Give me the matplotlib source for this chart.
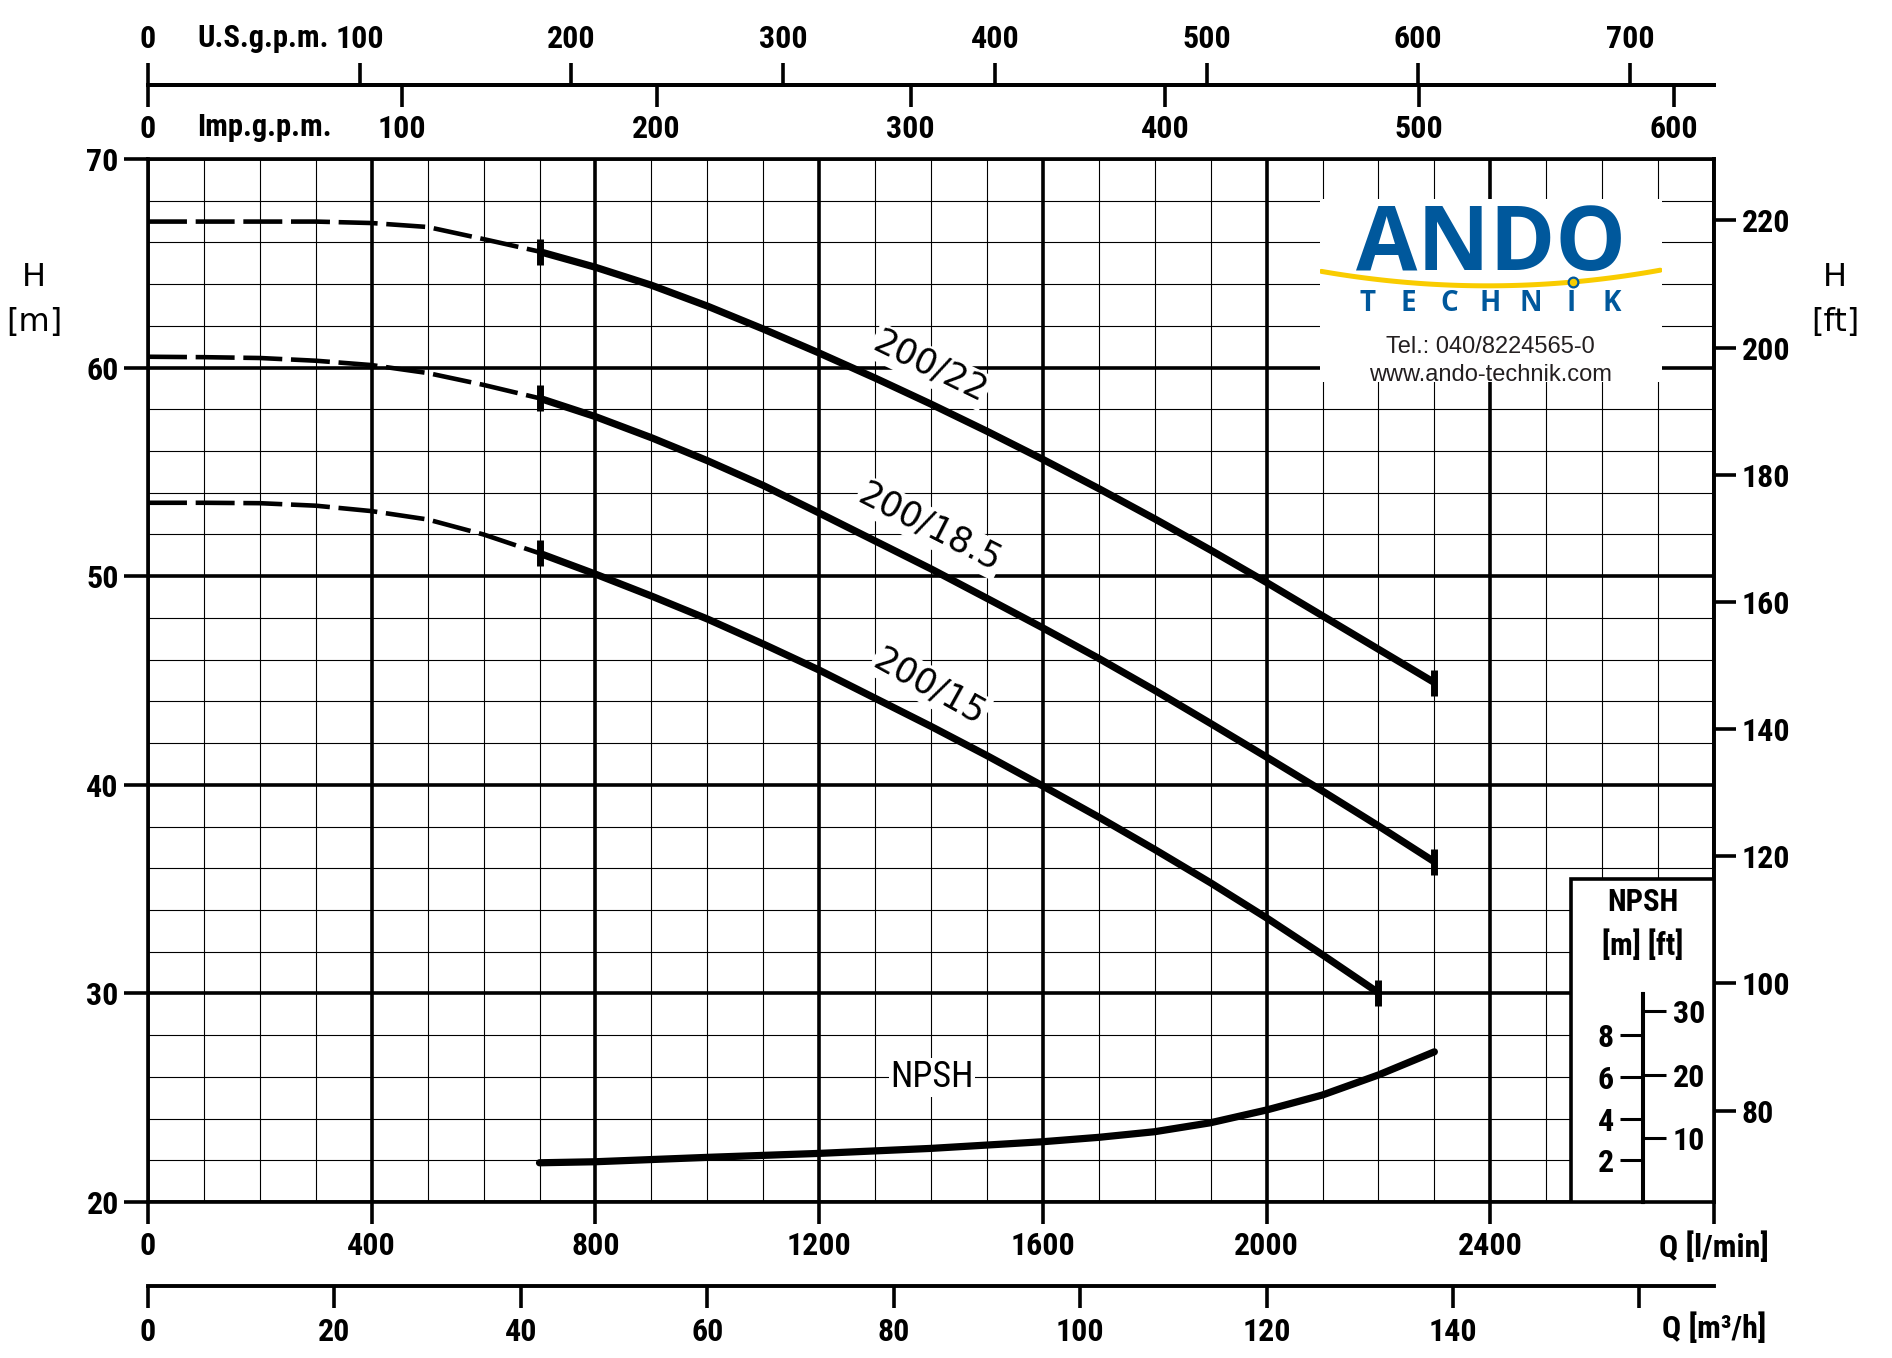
"""
Pump performance chart (H-Q curves with NPSH) for the 200 series,
redrawn from a manufacturer data sheet.
"""

import matplotlib

matplotlib.use("Agg")
import matplotlib.pyplot as plt
import numpy as np
from matplotlib.patches import Rectangle


FIG_W, FIG_H, DPI = 1892, 1358, 100
NARROW = ["Liberation Sans Narrow", "Roboto Condensed", "Roboto", "DejaVu Sans"]
PLAIN = ["DejaVu Sans"]
LOGO_FONT = ["Open Sans", "DejaVu Sans"]
TEXT_FONT = ["Liberation Sans", "DejaVu Sans"]
BLUE = "#00589c"
YELLOW = "#f9cc00"
MAJOR_LW = 2.6
MINOR_LW = 0.8
TICK_SIZE = 23

# Q in l/min, H in m
Q_DASH = [0, 100, 200, 300, 400, 500, 600, 700]
H22_DASH = [67.0, 67.0, 67.0, 67.0, 66.93, 66.74, 66.16, 65.56]
H185_DASH = [60.52, 60.5, 60.46, 60.33, 60.12, 59.74, 59.17, 58.53]
H15_DASH = [53.52, 53.52, 53.5, 53.38, 53.12, 52.72, 52.0, 51.1]

Q22 = [700, 800, 900, 1000, 1100, 1200, 1300, 1400, 1500, 1600, 1700, 1800,
       1900, 2000, 2100, 2200, 2300]
H22 = [65.56, 64.81, 63.95, 62.95, 61.85, 60.7, 59.5, 58.25, 56.95, 55.6,
       54.2, 52.75, 51.25, 49.7, 48.1, 46.5, 44.9]
Q185 = Q22
H185 = [58.53, 57.65, 56.64, 55.54, 54.35, 53.03, 51.69, 50.35, 48.94, 47.52,
        46.06, 44.53, 42.94, 41.33, 39.7, 38.03, 36.31]
Q15 = [700, 800, 900, 1000, 1100, 1200, 1300, 1400, 1500, 1600, 1700, 1800,
       1900, 2000, 2100, 2200]
H15 = [51.1, 50.1, 49.05, 47.95, 46.75, 45.5, 44.15, 42.8, 41.4, 39.94,
       38.45, 36.9, 35.3, 33.62, 31.85, 30.03]

Q_NPSH = [700, 800, 1000, 1200, 1400, 1600, 1700, 1800, 1900, 2000, 2100, 2200, 2300]
NPSH_M = [1.88, 1.93, 2.14, 2.33, 2.57, 2.89, 3.1, 3.37, 3.8, 4.41, 5.13, 6.09, 7.2]

CURVE_NAMES = ["200/22", "200/18.5", "200/15"]
LABEL_Q = [1398, 1398, 1398]
LABEL_H = [60.04, 52.33, 44.72]
LABEL_ROT = [-26, -27, -29]

Q_TICKS = [0, 400, 800, 1200, 1600, 2000, 2400, 2800]
Q_TICK_LABELS = ["0", "400", "800", "1200", "1600", "2000", "2400", "Q [l/min]"]
H_TICKS = [20, 30, 40, 50, 60, 70]
FT_TICKS = [80, 100, 120, 140, 160, 180, 200, 220]
USGPM_TICKS = [0, 100, 200, 300, 400, 500, 600, 700]
IMPGPM_TICKS = [0, 100, 200, 300, 400, 500, 600]
M3H_TICKS = [0, 20, 40, 60, 80, 100, 120, 140, 160]
M3H_LABELS = ["0", "20", "40", "60", "80", "100", "120", "140", ""]
NPSH_M_TICKS = [2, 4, 6, 8]
NPSH_FT_TICKS = [10, 20, 30]

M_TO_FT = 3.28084
US_GAL = 3.78541
IMP_GAL = 4.54609


def px_rect(left, top, right, bottom):
    """Figure-fraction rectangle from pixel edges (origin top-left)."""
    return [left / FIG_W, 1 - bottom / FIG_H, (right - left) / FIG_W, (bottom - top) / FIG_H]


def m_to_ft(v):
    return np.asarray(v) * M_TO_FT


def ft_to_m(v):
    return np.asarray(v) / M_TO_FT


def style_ticks(axis_obj, length=16, width=MAJOR_LW, pad=5):
    axis_obj.tick_params(length=length, width=width, pad=pad, labelsize=TICK_SIZE,
                         direction="out")


def draw_logo(ax):
    """White logo panel with company name and contact lines."""
    logo = ax.inset_axes([2095, 59.3, 612, 8.8], transform=ax.transData)
    logo.set_xlim(0, 1)
    logo.set_ylim(0, 1)
    logo.set_xticks([])
    logo.set_yticks([])
    for spine in logo.spines.values():
        spine.set_visible(False)
    logo.set_facecolor("white")

    logo.text(0.5, 0.612, "ANDO", ha="center", va="baseline", color=BLUE,
              fontsize=64, fontfamily=LOGO_FONT, fontweight="bold")
    xs = np.linspace(0.005, 0.995, 80)
    ys = 0.525 + 0.082 * ((xs - 0.49) / 0.495) ** 2
    logo.plot(xs, ys, color=YELLOW, lw=3.6, solid_capstyle="round")
    logo.plot([0.741], [0.548], marker="o", ms=7, mfc=YELLOW, mec=BLUE, mew=1.6)
    for x, ch in zip(np.linspace(0.140, 0.854, 7), "TECHNIK"):
        logo.text(x, 0.428, ch, ha="center", va="center", color=BLUE,
                  fontsize=20, fontfamily=LOGO_FONT, fontweight="bold")
    logo.text(0.5, 0.158, "Tel.: 040/8224565-0", ha="center", va="baseline",
              color="#231f20", fontsize=17, fontfamily=TEXT_FONT, fontweight="normal")
    logo.text(0.5, 0.008, "www.ando-technik.com", ha="center", va="baseline",
              color="#231f20", fontsize=17, fontfamily=TEXT_FONT, fontweight="normal")


def main():
    plt.rcParams["font.family"] = NARROW
    plt.rcParams["font.weight"] = "bold"

    fig = plt.figure(figsize=(FIG_W / DPI, FIG_H / DPI), dpi=DPI)
    ax = fig.add_axes(px_rect(148, 159, 1714, 1202))
    ax.set_xlim(0, 2800)
    ax.set_ylim(20, 70)
    ax.set_axisbelow(True)

    ax.set_xticks(Q_TICKS, labels=Q_TICK_LABELS)
    ax.set_xticks(np.arange(0, 2801, 100), minor=True)
    ax.set_yticks(H_TICKS)
    ax.set_yticks(np.arange(20, 71, 2), minor=True)
    ax.grid(which="major", color="black", linewidth=MAJOR_LW)
    ax.grid(which="minor", color="black", linewidth=MINOR_LW)
    ax.tick_params(which="minor", length=0)
    ax.tick_params(axis="x", which="major", length=16, width=MAJOR_LW, pad=5,
                   labelsize=TICK_SIZE)
    ax.tick_params(axis="y", which="major", length=17, width=MAJOR_LW, pad=4,
                   labelsize=TICK_SIZE)
    for spine in ax.spines.values():
        spine.set_linewidth(MAJOR_LW)

    # right axis in feet
    ft_axis = ax.secondary_yaxis("right", functions=(m_to_ft, ft_to_m))
    ft_axis.set_yticks(FT_TICKS)
    style_ticks(ft_axis, length=16, pad=4)
    ft_axis.spines["right"].set_linewidth(MAJOR_LW)

    # top axes: U.S. and imperial gallons per minute share one line
    loc_top = 1 + (159 - 85) / 1043
    us = ax.secondary_xaxis(loc_top, functions=(lambda q: np.asarray(q) / US_GAL,
                                                lambda g: np.asarray(g) * US_GAL))
    us.set_xticks(USGPM_TICKS)
    style_ticks(us, length=16, pad=6)
    us.spines["top"].set_linewidth(2.8)

    imp = ax.secondary_xaxis(loc_top, functions=(lambda q: np.asarray(q) / IMP_GAL,
                                                 lambda g: np.asarray(g) * IMP_GAL))
    imp.set_alignment("bottom")
    imp.set_xticks(IMPGPM_TICKS)
    style_ticks(imp, length=16, pad=5)
    imp.spines["bottom"].set_linewidth(2.8)

    # bottom axis in m3/h
    loc_bottom = (1202 - 1286) / 1043
    m3h = ax.secondary_xaxis(loc_bottom, functions=(lambda q: np.asarray(q) * 0.06,
                                                    lambda v: np.asarray(v) / 0.06))
    m3h.set_xticks(M3H_TICKS, labels=M3H_LABELS)
    style_ticks(m3h, length=16, pad=6)
    m3h.spines["bottom"].set_linewidth(2.8)

    fig.text(1714 / FIG_W, 1 - 1328 / FIG_H, "Q [m³/h]", ha="center", va="center",
             fontsize=TICK_SIZE)
    fig.text(197 / FIG_W, 1 - 38 / FIG_H, "U.S.g.p.m.", ha="left", va="center",
             fontsize=TICK_SIZE - 1)
    fig.text(197 / FIG_W, 1 - 127 / FIG_H, "Imp.g.p.m.", ha="left", va="center",
             fontsize=TICK_SIZE - 1)
    for x in (34, 1835):
        fig.text(x / FIG_W, 1 - 277 / FIG_H, "H", ha="center", va="center",
                 fontsize=23, fontfamily=PLAIN, fontweight="normal")
    fig.text(34 / FIG_W, 1 - 323 / FIG_H, "[m]", ha="center", va="center",
             fontsize=23, fontfamily=PLAIN, fontweight="normal")
    fig.text(1835 / FIG_W, 1 - 323 / FIG_H, "[ft]", ha="center", va="center",
             fontsize=23, fontfamily=PLAIN, fontweight="normal")

    # H-Q curves
    dashed = [H22_DASH, H185_DASH, H15_DASH]
    solid = [(Q22, H22), (Q185, H185), (Q15, H15)]
    for h_dash, (q, h) in zip(dashed, solid):
        ax.plot(Q_DASH, h_dash, color="black", lw=3.3, dashes=(8.5, 1.9),
                dash_capstyle="butt", zorder=4)
        ax.plot(q, h, color="black", lw=5.2, solid_capstyle="butt",
                solid_joinstyle="round", zorder=4)
        ax.plot([q[0], q[-1]], [h[0], h[-1]], ls="none", marker="|", ms=19,
                mew=5, color="black", zorder=4)

    for name, q, h, rot in zip(CURVE_NAMES, LABEL_Q, LABEL_H, LABEL_ROT):
        ax.text(q, h, name, rotation=rot, rotation_mode="anchor", ha="center",
                va="center", fontsize=25, fontfamily=PLAIN, fontweight="normal",
                zorder=5, bbox=dict(facecolor="white", edgecolor="none", pad=1.5))

    ax.text(1402, 25.97, "NPSH", ha="center", va="center", fontsize=26,
            fontweight="normal", zorder=5,
            bbox=dict(facecolor="white", edgecolor="none", pad=1.0))

    # NPSH panel in the lower right corner
    ax.add_patch(Rectangle((2544, 20), 256, 15.48, facecolor="white",
                           edgecolor="black", lw=MAJOR_LW, zorder=3))
    ax.text(2673, 34.36, "NPSH", ha="center", va="center", fontsize=22, zorder=5)
    ax.text(2673, 32.32, "[m] [ft]", ha="center", va="center", fontsize=22, zorder=5)

    draw_logo(ax)

    # NPSH curve uses its own metre scale starting at the bottom edge
    npsh_ax = ax.twinx()
    npsh_ax.set_ylim(0, 50)
    npsh_ax.set_axis_off()
    npsh_ax.plot(Q_NPSH, NPSH_M, color="black", lw=5.2, solid_capstyle="round",
                 solid_joinstyle="round")

    scale = npsh_ax.inset_axes([2672, 0, 1, 10], transform=npsh_ax.transData)
    scale.set_xlim(0, 1)
    scale.set_ylim(0, 10)
    scale.set_xticks([])
    scale.set_yticks(NPSH_M_TICKS)
    scale.patch.set_visible(False)
    for side in ("top", "bottom", "right"):
        scale.spines[side].set_visible(False)
    scale.spines["left"].set_linewidth(2.2)
    scale.tick_params(axis="y", length=15.5, width=2.2, pad=5, labelsize=TICK_SIZE)
    scale_ft = scale.secondary_yaxis("right", functions=(m_to_ft, ft_to_m))
    scale_ft.set_yticks(NPSH_FT_TICKS)
    scale_ft.tick_params(length=16.5, width=2.2, pad=5, labelsize=TICK_SIZE)
    scale_ft.spines["right"].set_linewidth(2.2)

    fig.savefig("out.png", dpi=DPI)


if __name__ == "__main__":
    main()
